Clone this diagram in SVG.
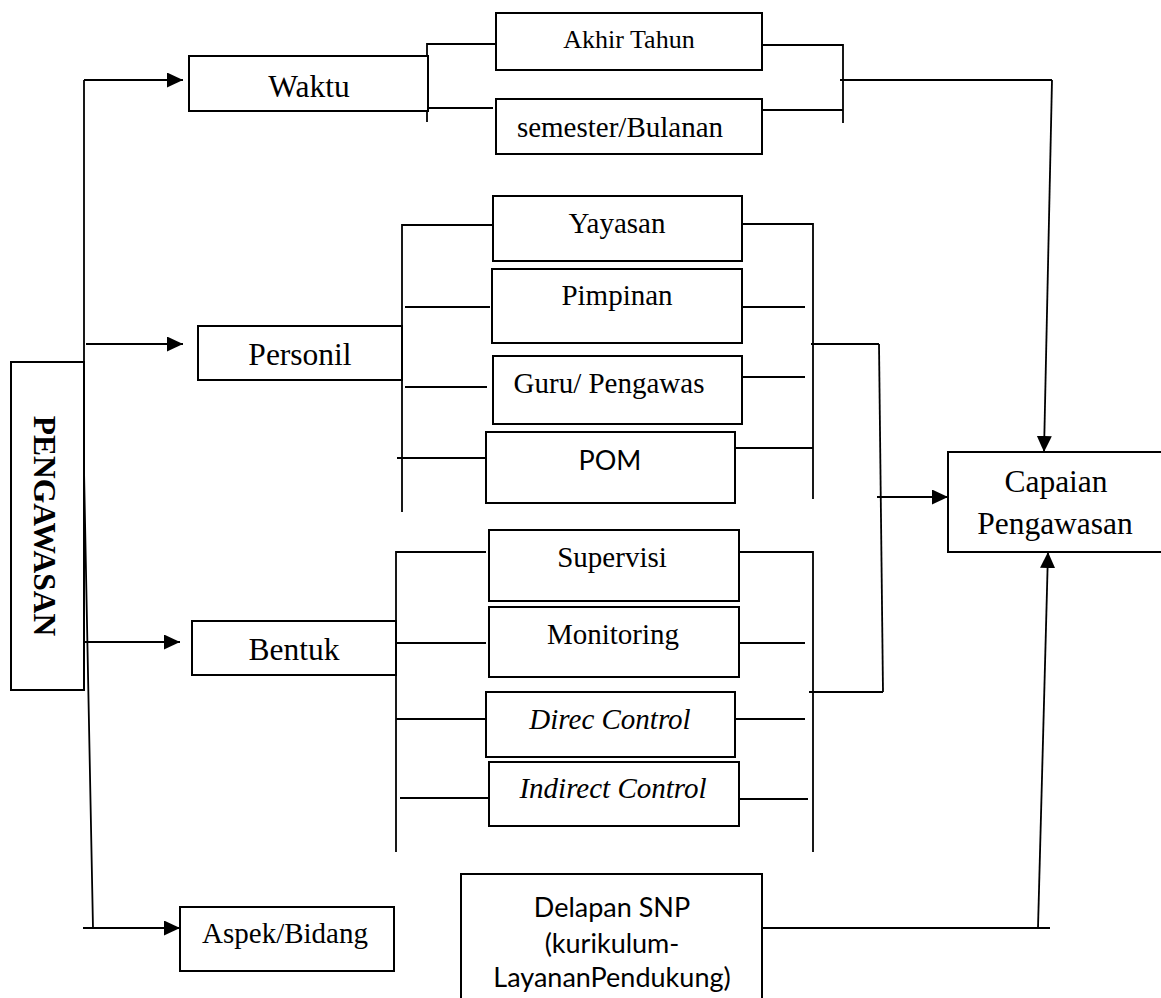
<svg xmlns="http://www.w3.org/2000/svg" width="1161" height="998" viewBox="0 0 1161 998">
<style>
.box{fill:#fff;stroke:#000;stroke-width:2}
.ln{fill:none;stroke:#000;stroke-width:1.8}
.t{font-family:"Liberation Serif","Times New Roman",serif;font-size:29px;fill:#000;text-anchor:middle}
.big{font-size:31.5px}
.it{font-style:italic}
.s{font-family:Lato,"Liberation Sans",sans-serif;font-size:27px;fill:#000;text-anchor:middle}
</style>
<defs>
<marker id="ah" markerUnits="userSpaceOnUse" markerWidth="17" markerHeight="16" refX="16" refY="7.5" orient="auto">
<path d="M0,0 L16,7.5 L0,15 z" fill="#000"/>
</marker>
</defs>
<rect width="1161" height="998" fill="#fff"/>

<g id="connectors">
<!-- trunk -->
<polyline class="ln" points="84,80 84,470 93,928"/>
<line class="ln" x1="84" y1="80" x2="183" y2="80" marker-end="url(#ah)"/>
<line class="ln" x1="86" y1="344" x2="183" y2="344" marker-end="url(#ah)"/>
<line class="ln" x1="83" y1="642" x2="180" y2="642" marker-end="url(#ah)"/>
<line class="ln" x1="83" y1="928" x2="180" y2="928" marker-end="url(#ah)"/>
<!-- waktu bracket -->
<polyline class="ln" points="496,44 427,44 427,122"/>
<line class="ln" x1="427" y1="108" x2="493" y2="108"/>
<polyline class="ln" points="762,45 843,45 843,123"/>
<line class="ln" x1="762" y1="110" x2="843" y2="110"/>
<line class="ln" x1="840" y1="80" x2="1052" y2="80"/>
<line class="ln" x1="1052" y1="80" x2="1044" y2="452" marker-end="url(#ah)"/>
<!-- personil bracket -->
<polyline class="ln" points="493,225 402,225 402,512"/>
<line class="ln" x1="405" y1="307" x2="490" y2="307"/>
<line class="ln" x1="405" y1="387" x2="487" y2="387"/>
<line class="ln" x1="397" y1="458" x2="486" y2="458"/>
<polyline class="ln" points="742,224 813,224 813,499"/>
<line class="ln" x1="742" y1="307" x2="805" y2="307"/>
<line class="ln" x1="742" y1="377" x2="805" y2="377"/>
<line class="ln" x1="735" y1="448" x2="813" y2="448"/>
<line class="ln" x1="811" y1="344" x2="879" y2="344"/>
<line class="ln" x1="879" y1="344" x2="883" y2="692"/>
<line class="ln" x1="809" y1="692" x2="883" y2="692"/>
<line class="ln" x1="877" y1="497" x2="948" y2="497" marker-end="url(#ah)"/>
<!-- bentuk bracket -->
<polyline class="ln" points="486,552 396,552 396,852"/>
<line class="ln" x1="396" y1="643" x2="486" y2="643"/>
<line class="ln" x1="396" y1="719" x2="486" y2="719"/>
<line class="ln" x1="400" y1="798" x2="489" y2="798"/>
<polyline class="ln" points="739,552 813,552 813,852"/>
<line class="ln" x1="737" y1="643" x2="805" y2="643"/>
<line class="ln" x1="735" y1="719" x2="805" y2="719"/>
<line class="ln" x1="739" y1="799" x2="808" y2="799"/>
<!-- delapan -->
<line class="ln" x1="762" y1="928" x2="1050" y2="928"/>
<line class="ln" x1="1038" y1="928" x2="1048" y2="552" marker-end="url(#ah)"/>
</g>

<g id="pengawasan">
<rect class="box" x="11" y="362" width="73" height="328"/>
<text class="t big" font-weight="bold" transform="translate(34,526) rotate(90)">PENGAWASAN</text>
</g>
<g id="waktu">
<rect class="box" x="189" y="56" width="239" height="55"/>
<text class="t big" x="309" y="97">Waktu</text>
</g>
<g id="akhir-tahun">
<rect class="box" x="496" y="13" width="266" height="57"/>
<text class="t" style="font-size:26px" x="629" y="48">Akhir Tahun</text>
</g>
<g id="semester">
<rect class="box" x="496" y="99" width="266" height="55"/>
<text class="t" x="620" y="137">semester/Bulanan</text>
</g>
<g id="personil">
<rect class="box" x="198" y="326" width="204" height="54"/>
<text class="t big" x="300" y="365">Personil</text>
</g>
<g id="yayasan">
<rect class="box" x="493" y="196" width="249" height="65"/>
<text class="t" x="617" y="233">Yayasan</text>
</g>
<g id="pimpinan">
<rect class="box" x="492" y="269" width="250" height="74"/>
<text class="t" x="617" y="305">Pimpinan</text>
</g>
<g id="guru">
<rect class="box" x="493" y="356" width="249" height="68"/>
<text class="t" x="609" y="393">Guru/ Pengawas</text>
</g>
<g id="pom">
<rect class="box" x="486" y="432" width="249" height="71"/>
<text class="s" x="610" y="470">POM</text>
</g>
<g id="bentuk">
<rect class="box" x="192" y="621" width="204" height="54"/>
<text class="t big" x="294" y="660">Bentuk</text>
</g>
<g id="supervisi">
<rect class="box" x="489" y="530" width="250" height="71"/>
<text class="t" x="612" y="567">Supervisi</text>
</g>
<g id="monitoring">
<rect class="box" x="489" y="607" width="250" height="70"/>
<text class="t" x="613" y="644">Monitoring</text>
</g>
<g id="direc">
<rect class="box" x="486" y="692" width="249" height="65"/>
<text class="t it" x="610" y="729">Direc Control</text>
</g>
<g id="indirect">
<rect class="box" x="489" y="762" width="250" height="64"/>
<text class="t it" x="613" y="798">Indirect Control</text>
</g>
<g id="aspek">
<rect class="box" x="180" y="907" width="214" height="64"/>
<text class="t" x="285" y="943">Aspek/Bidang</text>
</g>
<g id="delapan">
<rect class="box" x="461" y="874" width="301" height="140"/>
<text class="s" x="612" y="917">Delapan SNP</text>
<text class="s" x="612" y="953">(kurikulum-</text>
<text class="s" x="612" y="987">LayananPendukung)</text>
</g>
<g id="capaian">
<rect class="box" x="948" y="452" width="216" height="100"/>
<text class="t big" x="1056" y="492">Capaian</text>
<text class="t big" x="1055" y="534">Pengawasan</text>
</g>
</svg>
